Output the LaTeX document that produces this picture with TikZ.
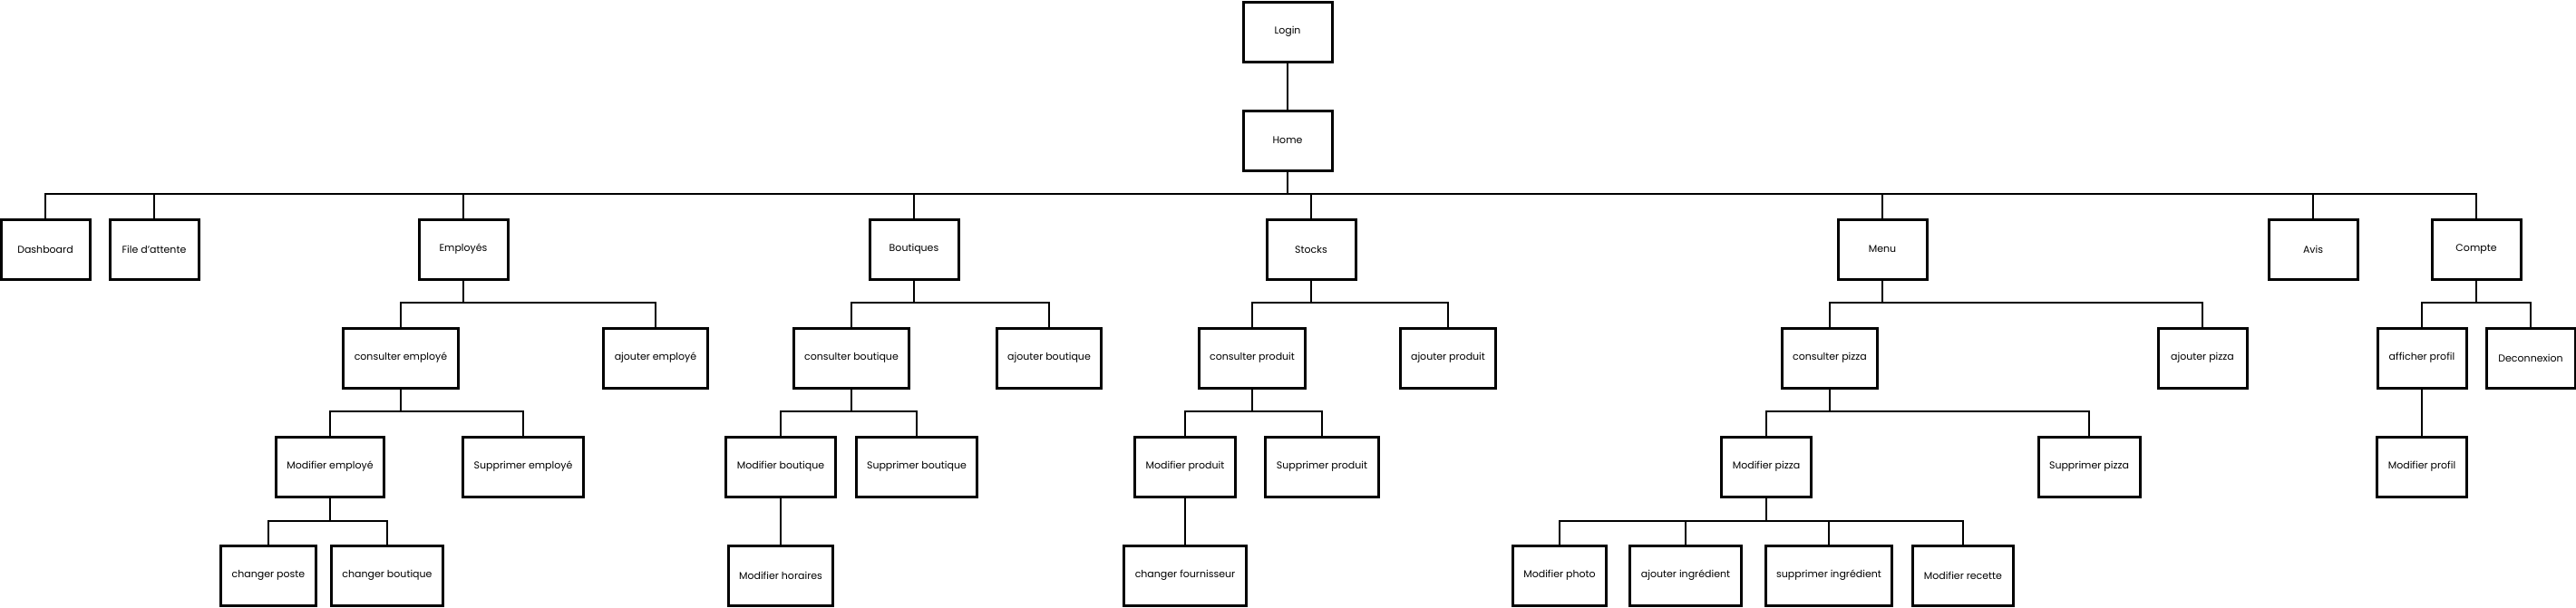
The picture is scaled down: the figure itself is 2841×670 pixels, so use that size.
\documentclass[tikz,border=0pt]{standalone}
\usepackage{fontspec}
\setmainfont{Poppins}
\begin{document}
\begin{tikzpicture}[x=1pt,y=-1pt,
  screen/.style={draw,line width=3pt,fill=white,minimum width=98pt,minimum height=66pt,inner xsep=12pt,font=\fontsize{11}{13}\selectfont},
  link/.style={line width=2.6pt}]
\useasboundingbox (0,0) rectangle (2841,670);
% level 0 and 1
\node[screen] (login) at (1420,35) {Login};
\node[screen] (home) at (1420,155) {Home};
% level 2
\node[screen] (dash) at (50,275) {Dashboard};
\node[screen] (file) at (170,275) {File d'attente};
\node[screen] (emp) at (511,275) {Employés};
\node[screen] (bout) at (1008,275) {Boutiques};
\node[screen] (stock) at (1446,275) {Stocks};
\node[screen] (menu) at (2076,275) {Menu};
\node[screen] (avis) at (2551,275) {Avis};
\node[screen] (compte) at (2731,275) {Compte};
% level 3
\node[screen] (cemp) at (442,395) {consulter employé};
\node[screen] (aemp) at (723,395) {ajouter employé};
\node[screen] (cbout) at (939,395) {consulter boutique};
\node[screen] (about) at (1157,395) {ajouter boutique};
\node[screen] (cprod) at (1381,395) {consulter produit};
\node[screen] (aprod) at (1597,395) {ajouter produit};
\node[screen] (cpizza) at (2018,395) {consulter pizza};
\node[screen] (apizza) at (2429,395) {ajouter pizza};
\node[screen] (aprof) at (2671,395) {afficher profil};
\node[screen] (deco) at (2791,395) {Deconnexion};
% level 4
\node[screen] (memp) at (364,515) {Modifier employé};
\node[screen] (semp) at (577,515) {Supprimer employé};
\node[screen] (mbout) at (861,515) {Modifier boutique};
\node[screen] (sbout) at (1011,515) {Supprimer boutique};
\node[screen] (mprod) at (1307,515) {Modifier produit};
\node[screen] (sprod) at (1458,515) {Supprimer produit};
\node[screen] (mpizza) at (1948,515) {Modifier pizza};
\node[screen] (spizza) at (2304,515) {Supprimer pizza};
\node[screen] (mprof) at (2671,515) {Modifier profil};
% level 5
\node[screen] (cposte) at (296,635) {changer poste};
\node[screen] (cboutq) at (427,635) {changer boutique};
\node[screen] (mhor) at (861,635) {Modifier horaires};
\node[screen] (cfour) at (1307,635) {changer fournisseur};
\node[screen] (mphoto) at (1720,635) {Modifier photo};
\node[screen] (aing) at (1859,635) {ajouter ingrédient};
\node[screen] (sing) at (2017,635) {supprimer ingrédient};
\node[screen] (mrec) at (2165,635) {Modifier recette};
% bus points
\coordinate (bHome) at (1420,214);
\coordinate (bEmp) at (511,334);
\coordinate (bCemp) at (442,454);
\coordinate (bMemp) at (364,575);
\coordinate (bBout) at (1008,334);
\coordinate (bCbout) at (939,454);
\coordinate (bStock) at (1446,334);
\coordinate (bCprod) at (1381,454);
\coordinate (bMenu) at (2076,334);
\coordinate (bCpizza) at (2018,454);
\coordinate (bMpizza) at (1948,575);
\coordinate (bCompte) at (2731,334);
% links
\draw[link] (login) -- (home);
\draw[link] (home) -- (bHome);
\foreach \c in {dash,file,emp,bout,stock,menu,avis,compte} \draw[link] (bHome) -| (\c);
\draw[link] (emp) -- (bEmp);
\foreach \c in {cemp,aemp} \draw[link] (bEmp) -| (\c);
\draw[link] (cemp) -- (bCemp);
\foreach \c in {memp,semp} \draw[link] (bCemp) -| (\c);
\draw[link] (memp) -- (bMemp);
\foreach \c in {cposte,cboutq} \draw[link] (bMemp) -| (\c);
\draw[link] (bout) -- (bBout);
\foreach \c in {cbout,about} \draw[link] (bBout) -| (\c);
\draw[link] (cbout) -- (bCbout);
\foreach \c in {mbout,sbout} \draw[link] (bCbout) -| (\c);
\draw[link] (mbout) -- (mhor);
\draw[link] (stock) -- (bStock);
\foreach \c in {cprod,aprod} \draw[link] (bStock) -| (\c);
\draw[link] (cprod) -- (bCprod);
\foreach \c in {mprod,sprod} \draw[link] (bCprod) -| (\c);
\draw[link] (mprod) -- (cfour);
\draw[link] (menu) -- (bMenu);
\foreach \c in {cpizza,apizza} \draw[link] (bMenu) -| (\c);
\draw[link] (cpizza) -- (bCpizza);
\foreach \c in {mpizza,spizza} \draw[link] (bCpizza) -| (\c);
\draw[link] (mpizza) -- (bMpizza);
\foreach \c in {mphoto,aing,sing,mrec} \draw[link] (bMpizza) -| (\c);
\draw[link] (compte) -- (bCompte);
\foreach \c in {aprof,deco} \draw[link] (bCompte) -| (\c);
\draw[link] (aprof) -- (mprof);
\end{tikzpicture}
\end{document}
